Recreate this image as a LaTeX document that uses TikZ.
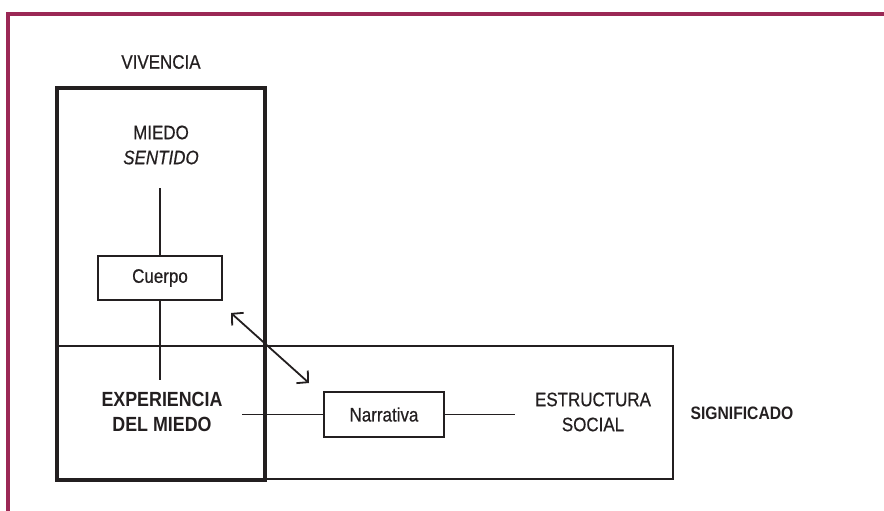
\documentclass[tikz,border=0pt]{standalone}
\usepackage{fontspec}
\setmainfont{Liberation Sans}[FakeStretch=0.87, UprightFeatures={FakeBold=0.6}, ItalicFeatures={FakeBold=0.6}]
\usetikzlibrary{arrows.meta}
\definecolor{frame}{RGB}{155,40,85}
\definecolor{ink}{RGB}{35,31,32}
\tikzset{
  every node/.style={text=ink, inner sep=0pt, outer sep=0pt},
  bigbox/.style={draw=ink, line width=3.4pt, fill=none},
  sigbox/.style={draw=ink, line width=2.6pt, fill=none},
  smallbox/.style={draw=ink, line width=1.8pt, minimum height=45pt, align=center},
  lbl/.style={font=\fontsize{19.5}{25}\selectfont, align=center},
  blbl/.style={font=\fontsize{20.5}{25}\selectfont\bfseries, align=center},
  conn/.style={draw=ink, line width=1.8pt},
  dbl/.style={draw=ink, line width=1.8pt, {Straight Barb[length=8pt,width=17pt]}-{Straight Barb[length=8pt,width=17pt]}}
}
\begin{document}
\begin{tikzpicture}[x=1pt,y=-1pt]
\useasboundingbox (0,0) rectangle (884,511);
% frame
\draw[frame, line width=3.2pt] (884,14) -- (8,14) -- (8,511);
% big boxes
\node[sigbox, minimum width=616pt, minimum height=133pt] (sig) at (365,412.5) {};
\node[bigbox, minimum width=208pt, minimum height=392pt] (viv) at (161,284) {};
% labels
\node[lbl] (vivencia) at (161,62) {VIVENCIA};
\node[lbl] (miedo) at (161,145) {MIEDO\\\textit{SENTIDO}};
\node[smallbox, lbl, minimum width=124pt, minimum height=44pt] (cuerpo) at (160,278) {Cuerpo};
\node[blbl] (exp) at (162,412) {EXPERIENCIA\\DEL MIEDO};
\node[smallbox, lbl, minimum width=120pt] (narr) at (384,414.5) {Narrativa};
\node[lbl] (estr) at (593,412) {ESTRUCTURA\\SOCIAL};
\node[blbl, font=\fontsize{18}{20}\selectfont\bfseries] (signif) at (742,413) {SIGNIFICADO};
% connectors
\draw[conn] ([yshift=-24pt]miedo.south -| cuerpo.north) -- (cuerpo.north);
\draw[conn] (cuerpo.south) -- ([yshift=12pt]exp.north -| cuerpo.south);
\draw[conn] ([xshift=20pt]exp.east |- narr.west) -- (narr.west);
\draw[conn] (narr.east) -- ([xshift=-20pt]estr.west |- narr.east);
\draw[dbl] ([shift={(9,13)}]cuerpo.south east) -- ([shift={(-15,-9)}]narr.north west);
\end{tikzpicture}
\end{document}
